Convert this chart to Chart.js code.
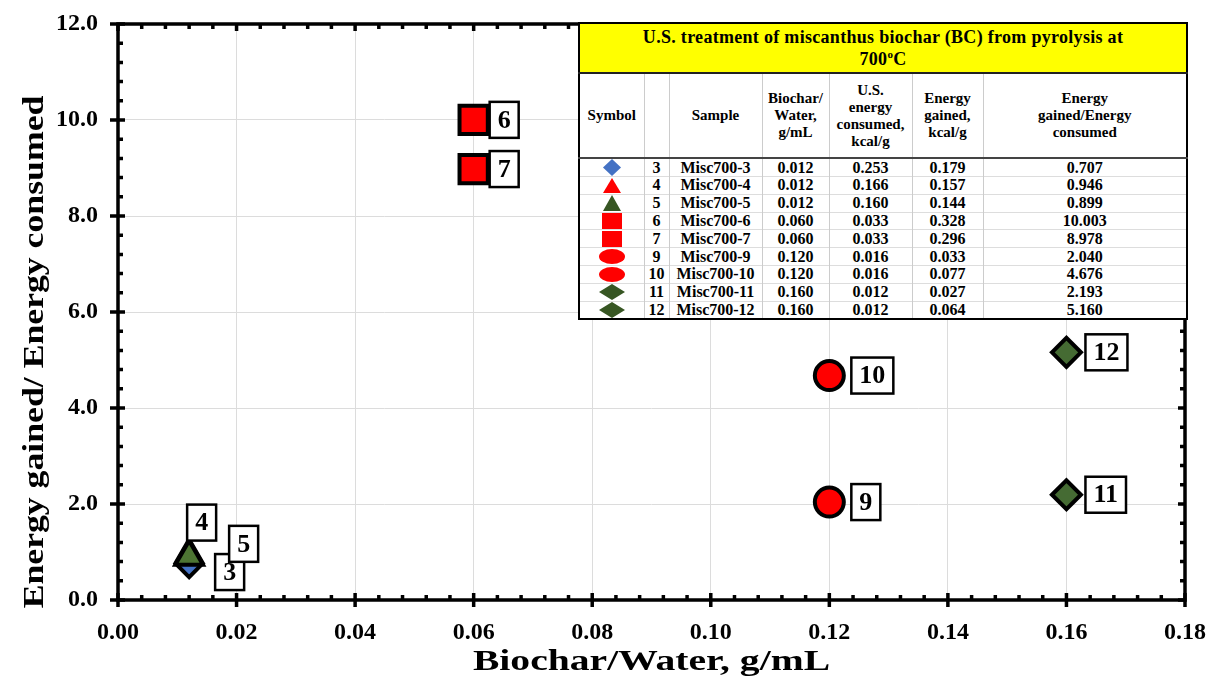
<!DOCTYPE html>
<html>
<head>
<meta charset="utf-8">
<script src="https://cdn.jsdelivr.net/npm/chart.js@4.4.0/dist/chart.umd.min.js"></script>
<style>
  body { margin: 0; background: #fff; }
  #wrap { position: relative; width: 1211px; height: 682px; }
  #info { position: absolute; left: 578px; top: 22px; width: 608px; border-collapse: collapse;
    table-layout: fixed; background: #fff; border: 2px solid #000; }
  #info td, #info th { padding: 0; text-align: center; color: #000; overflow: hidden; white-space: nowrap;
    font-family: "Liberation Serif", "Times New Roman", serif; font-weight: bold; }
  #info .title td { background: #ffff00; height: 48px; font-size: 18px; line-height: 22px;
    border-bottom: 2px solid #222; letter-spacing: 0.3px; }
  #info .title sup { font-size: 11px; line-height: 0; }
  #info .head th { height: 83px; font-size: 15px; line-height: 17px; border-left: 1px solid #ccc;
    border-bottom: 2px solid #444; }
  #info .row td { height: 16.8px; font-size: 16px; line-height: 16px; border-top: 1px solid #ddd;
    border-left: 1px solid #ccc; }
  #info .row td svg { display: block; margin: 0 auto; }
</style>
</head>
<body>
<div id="wrap">
  <canvas id="chart" width="1211" height="682"></canvas>
  <table id="info"></table>
</div>
<script>
// sample data (table + chart)
const sampleIds = [3, 4, 5, 6, 7, 9, 10, 11, 12];
const sampleNames = ["Misc700-3", "Misc700-4", "Misc700-5", "Misc700-6", "Misc700-7",
  "Misc700-9", "Misc700-10", "Misc700-11", "Misc700-12"];
const biocharWater = [0.012, 0.012, 0.012, 0.060, 0.060, 0.120, 0.120, 0.160, 0.160];
const energyConsumed = [0.253, 0.166, 0.160, 0.033, 0.033, 0.016, 0.016, 0.012, 0.012];
const energyGained = [0.179, 0.157, 0.144, 0.328, 0.296, 0.033, 0.077, 0.027, 0.064];
const energyRatio = [0.707, 0.946, 0.899, 10.003, 8.978, 2.040, 4.676, 2.193, 5.160];

const tableTitle = ["U.S. treatment of miscanthus biochar (BC) from pyrolysis at", "700"];
const tableHeaders = [["Symbol"], [""], ["Sample"], ["Biochar/", "Water,", "g/mL"],
  ["U.S.", "energy", "consumed,", "kcal/g"], ["Energy", "gained,", "kcal/g"], ["Energy", "gained/Energy", "consumed"]];
const xTitle = "Biochar/Water, g/mL";
const yTitle = "Energy gained/ Energy consumed";

// marker styles
const markerShapes = ["rectRot", "triangle", "triangle", "rect", "rect", "circle", "circle", "rectRot", "rectRot"];
const markerColors = ["#4472c4", "#ff0000", "#4d7533", "#ff0000", "#ff0000", "#ff0000", "#ff0000", "#456b33", "#456b33"];
const tableColors = ["#4472c4", "#ff0000", "#375623", "#ff0000", "#ff0000", "#ff0000", "#ff0000", "#375623", "#375623"];
const markerSizes = [11, 15, 16, 20, 20, 14.5, 14.5, 14.5, 14.5];
const symbolSizes = [[18, 17], [18, 15], [18, 16], [20, 16], [20, 16], [26, 15], [26, 15], [26, 16], [26, 16]];
// label box offsets from the point: [dx to box left, dy to box centre]
const labelOffsets = [[26, 6], [-2, -32], [40, -13], [16, 0], [16, 0], [22, 0], [22, 0], [19, 0], [19, 0]];

const serif = '"Liberation Serif", "Times New Roman", serif';

function symbolSvg(shape, color, w, h) {
  let s;
  if (shape === "rectRot") s = `<polygon points="${w/2},0 ${w},${h/2} ${w/2},${h} 0,${h/2}" fill="${color}"/>`;
  else if (shape === "triangle") s = `<polygon points="${w/2},0 ${w},${h} 0,${h}" fill="${color}"/>`;
  else if (shape === "rect") s = `<rect x="0" y="0" width="${w}" height="${h}" fill="${color}"/>`;
  else s = `<ellipse cx="${w/2}" cy="${h/2}" rx="${w/2}" ry="${h/2}" fill="${color}"/>`;
  return `<svg width="${w}" height="${h}">${s}</svg>`;
}

// build the table
let html = `<colgroup><col style="width:65px"><col style="width:25px"><col style="width:93px"><col style="width:67px"><col style="width:83px"><col style="width:71px"><col style="width:204px"></colgroup>`;
html += `<tr class="title"><td colspan="7">${tableTitle[0]}<br>${tableTitle[1]}<sup>o</sup>C</td></tr>`;
html += `<tr class="head">` + tableHeaders.map(h => `<th>${h.join("<br>")}</th>`).join("") + `</tr>`;
sampleIds.forEach((id, i) => {
  html += `<tr class="row"><td>${symbolSvg(markerShapes[i], tableColors[i], symbolSizes[i][0], symbolSizes[i][1])}</td>` +
    `<td>${id}</td><td>${sampleNames[i]}</td><td>${biocharWater[i].toFixed(3)}</td>` +
    `<td>${energyConsumed[i].toFixed(3)}</td><td>${energyGained[i].toFixed(3)}</td><td>${energyRatio[i].toFixed(3)}</td></tr>`;
});
document.getElementById("info").innerHTML = html;

// frame with major/minor ticks on all four sides, plus the (wide) axis titles
const framePlugin = {
  id: "frame",
  beforeDatasetsDraw(chart) {
    const { ctx, chartArea: ca, scales } = chart;
    const xs = scales.x, ys = scales.y;
    ctx.save();
    ctx.strokeStyle = "#000";
    ctx.lineWidth = 3.5;
    ctx.strokeRect(ca.left, ca.top, ca.right - ca.left, ca.bottom - ca.top);
    ctx.beginPath();
    const xMinor = 0.004, yMinor = 0.4;
    const nx = Math.round((xs.max - xs.min) / xMinor);
    for (let i = 0; i <= nx; i++) {
      const px = xs.getPixelForValue(xs.min + i * xMinor);
      const major = i % 5 === 0;
      ctx.moveTo(px, ca.bottom + (major ? 7 : 0)); ctx.lineTo(px, ca.bottom - (major ? 7 : 5));
      ctx.moveTo(px, ca.top); ctx.lineTo(px, ca.top + (major ? 7 : 5));
    }
    const ny = Math.round((ys.max - ys.min) / yMinor);
    for (let i = 0; i <= ny; i++) {
      const py = ys.getPixelForValue(ys.min + i * yMinor);
      const major = i % 5 === 0;
      ctx.moveTo(ca.left - (major ? 8 : 0), py); ctx.lineTo(ca.left + (major ? 7 : 5), py);
      ctx.moveTo(ca.right, py); ctx.lineTo(ca.right - (major ? 7 : 5), py);
    }
    ctx.stroke();

    // axis titles, stretched sideways like the original
    ctx.fillStyle = "#000";
    ctx.font = `bold 30px ${serif}`;
    ctx.textAlign = "center";
    ctx.textBaseline = "middle";
    ctx.save();
    ctx.translate((ca.left + ca.right) / 2, 662);
    ctx.scale(1.32, 1);
    ctx.fillText(xTitle, 0, 0);
    ctx.restore();
    ctx.save();
    ctx.translate(35, 352);
    ctx.rotate(-Math.PI / 2);
    ctx.scale(1.19, 1);
    ctx.fillText(yTitle, 0, 0);
    ctx.restore();
    ctx.restore();
  }
};

// numbered boxes next to the points
const labelPlugin = {
  id: "numberLabels",
  afterDatasetsDraw(chart) {
    const { ctx } = chart;
    const meta = chart.getDatasetMeta(0);
    ctx.save();
    ctx.font = `bold 26px ${serif}`;
    ctx.textAlign = "center";
    ctx.textBaseline = "middle";
    meta.data.forEach((pt, i) => {
      const txt = String(sampleIds[i]);
      const w = ctx.measureText(txt).width + 16, h = 36;
      const bx = pt.x + labelOffsets[i][0], by = pt.y + labelOffsets[i][1] - h / 2;
      ctx.fillStyle = "#fff";
      ctx.fillRect(bx, by, w, h);
      ctx.strokeStyle = "#000";
      ctx.lineWidth = 2.5;
      ctx.strokeRect(bx, by, w, h);
      ctx.fillStyle = "#000";
      ctx.fillText(txt, bx + w / 2, by + h / 2 + 1);
    });
    ctx.restore();
  }
};

const tickFont = { family: serif, size: 24, weight: "bold" };

new Chart(document.getElementById("chart"), {
  type: "scatter",
  data: {
    datasets: [{
      data: biocharWater.map((b, i) => ({ x: b, y: energyRatio[i] })),
      pointStyle: markerShapes,
      backgroundColor: markerColors,
      borderColor: "#000",
      borderWidth: 4,
      pointRadius: markerSizes,
      pointHoverRadius: markerSizes
    }]
  },
  options: {
    responsive: false,
    animation: false,
    devicePixelRatio: 1,
    layout: { padding: { top: 20, right: 26, left: 0, bottom: 0 } },
    plugins: { legend: { display: false }, tooltip: { enabled: false } },
    scales: {
      x: {
        type: "linear", min: 0, max: 0.18,
        afterFit: s => { s.height = 82; s.paddingLeft = 0; s.paddingRight = 0; },
        ticks: { stepSize: 0.02, padding: 18, color: "#000", font: tickFont, callback: v => v.toFixed(2) },
        grid: { color: "#dcdcdc", lineWidth: 1, drawTicks: false },
        border: { display: false }
      },
      y: {
        min: 0, max: 12,
        afterFit: s => { s.width = 118; s.paddingTop = 0; s.paddingBottom = 0; },
        ticks: { stepSize: 2, padding: 20, color: "#000", font: tickFont, callback: v => v.toFixed(1) },
        grid: { color: "#dcdcdc", lineWidth: 1, drawTicks: false },
        border: { display: false }
      }
    }
  },
  plugins: [framePlugin, labelPlugin]
});
</script>
</body>
</html>
